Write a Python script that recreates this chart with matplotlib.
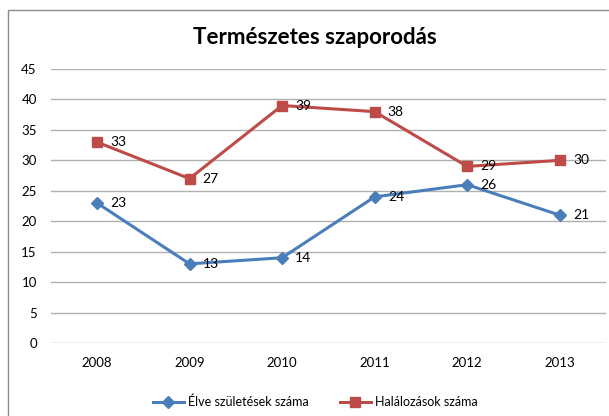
import matplotlib
matplotlib.use("Agg")
import matplotlib.pyplot as plt
from matplotlib.patches import Rectangle

years = ["2008", "2009", "2010", "2011", "2012", "2013"]
births = [23, 13, 14, 24, 26, 21]
deaths = [33, 27, 39, 38, 29, 30]
yticks = [0, 5, 10, 15, 20, 25, 30, 35, 40, 45]

plt.rcParams['font.family'] = ['Lato', 'DejaVu Sans']

fig = plt.figure(figsize=(6.09, 4.16), dpi=100)
fig.patches.append(Rectangle((8/609, -0.05), 1.2, 1 - 10/416 + 0.05, transform=fig.transFigure,
                             fill=False, edgecolor='#8c8c8c', linewidth=1.0))
ax = fig.add_axes([50.7/609, 1 - 343/416, (606 - 50.7)/609, (343 - 69)/416])

x = list(range(len(years)))
blue = '#4A7EBB'
red = '#BE4B48'
ax.plot(x, births, color=blue, linewidth=2.2, marker='D', markersize=6, label='Élve születések száma')
ax.plot(x, deaths, color=red, linewidth=2.2, marker='s', markersize=7, label='Halálozások száma')
for xi, v in zip(x, births):
    ax.annotate(str(v), (xi, v), xytext=(9.5, 0), textcoords='offset points', va='center', ha='left', fontsize=10)
for xi, v in zip(x, deaths):
    ax.annotate(str(v), (xi, v), xytext=(9.5, 0), textcoords='offset points', va='center', ha='left', fontsize=10)

ax.set_xlim(-0.5, len(years) - 0.5)
ax.set_ylim(0, 45)
ax.set_yticks(yticks)
ax.set_xticks(x)
ax.set_xticklabels(years)
ax.tick_params(axis='both', length=0, labelsize=9.5, colors='black')
ax.tick_params(axis='y', pad=10)
ax.tick_params(axis='x', pad=10)
ax.grid(axis='y', color='#b0b0b0', linewidth=1.0)
ax.set_axisbelow(True)
for s in ax.spines.values():
    s.set_visible(False)

fig.text(315/609, 1 - 38/416, 'Természetes szaporodás', ha='center', va='center', fontsize=16, fontweight='bold')
fig.legend(loc='center', bbox_to_anchor=(315/609, 1 - 402/416), ncol=2, frameon=False, fontsize=9,
           handlelength=2.5, columnspacing=2.5, handletextpad=0.3)

fig.savefig('out.png', dpi=100)
